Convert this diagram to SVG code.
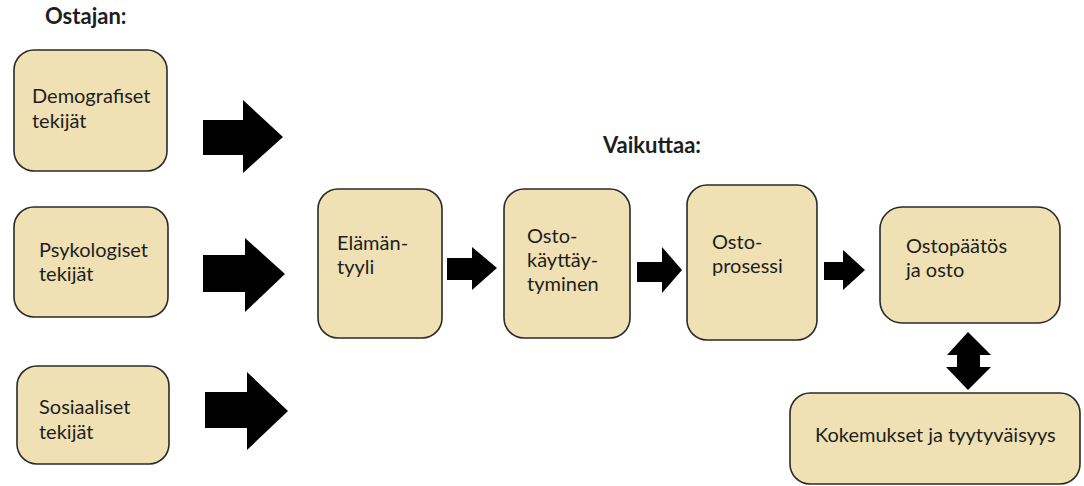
<svg xmlns="http://www.w3.org/2000/svg" width="1084" height="486" viewBox="0 0 1084 486">
<style>
.box{fill:#EFE1B4;stroke:#2a2a2a;stroke-width:1.6}
.t{font-family:Lato,"Liberation Sans",sans-serif;font-size:20px;fill:#1e1e1e}
.h{font-family:Lato,"Liberation Sans",sans-serif;font-size:22px;font-weight:bold;fill:#1e1e1e}
.arr{fill:#000}
</style>
<rect width="1084" height="486" fill="#fff"/>
<text class="h" x="45" y="24">Ostajan:</text>
<text class="h" x="603" y="153">Vaikuttaa:</text>
<g id="demografiset">
<rect class="box" x="14" y="50" width="153" height="121" rx="20"/>
<text class="t" x="32" y="103">Demografiset</text>
<text class="t" x="32" y="128">tekijät</text>
</g>
<g id="psykologiset">
<rect class="box" x="14" y="207" width="154" height="110" rx="20"/>
<text class="t" x="39" y="257">Psykologiset</text>
<text class="t" x="39" y="281">tekijät</text>
</g>
<g id="sosiaaliset">
<rect class="box" x="17" y="366" width="152" height="98" rx="20"/>
<text class="t" x="39" y="414">Sosiaaliset</text>
<text class="t" x="39" y="439">tekijät</text>
</g>
<g id="elamantyyli">
<rect class="box" x="318" y="189" width="124" height="149" rx="20"/>
<text class="t" x="337" y="250">Elämän-</text>
<text class="t" x="337" y="274">tyyli</text>
</g>
<g id="ostokayttaytyminen">
<rect class="box" x="504" y="189" width="126" height="149" rx="20"/>
<text class="t" x="527" y="243">Osto-</text>
<text class="t" x="527" y="267">käyttäy-</text>
<text class="t" x="527" y="291">tyminen</text>
</g>
<g id="ostoprosessi">
<rect class="box" x="687" y="185" width="130" height="155" rx="20"/>
<text class="t" x="712" y="249">Osto-</text>
<text class="t" x="712" y="273">prosessi</text>
</g>
<g id="ostopaatos">
<rect class="box" x="880" y="207" width="180" height="116" rx="22"/>
<text class="t" x="906" y="253">Ostopäätös</text>
<text class="t" x="906" y="277">ja osto</text>
</g>
<g id="kokemukset">
<rect class="box" x="790" y="393" width="290" height="91" rx="20"/>
<text class="t" x="815" y="442">Kokemukset ja tyytyväisyys</text>
</g>
<g id="connectors">
<polygon class="arr" points="203,120 243,120 243,100 283,137 243,173 243,155 203,155"/>
<polygon class="arr" points="203,255 245,255 245,238 285,274 245,312 245,292 203,292"/>
<polygon class="arr" points="205,392 247,392 247,372 288,411 247,450 247,428 205,428"/>
<polygon class="arr" points="447,258 472,258 472,247 497,268 472,290 472,280 447,280"/>
<polygon class="arr" points="637,262 662,262 662,247 682,270 662,293 662,282 637,282"/>
<polygon class="arr" points="824,262 843,262 843,250 865,270 843,290 843,280 824,280"/>
<polygon class="arr" points="968,332 991,355 980,355 980,367 991,367 968,390 946,367 957,367 957,355 947,355"/>
</g>
</svg>
